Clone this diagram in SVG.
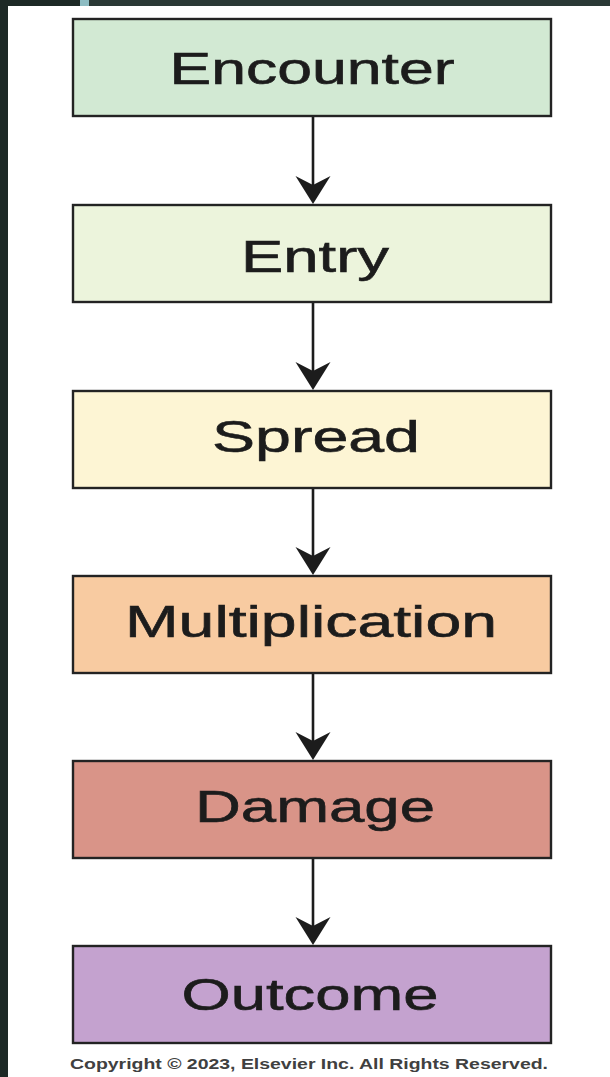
<svg xmlns="http://www.w3.org/2000/svg" width="610" height="1077" viewBox="0 0 610 1077">
  <style>
    .box { stroke: #232323; stroke-width: 2.4; }
    .lbl { font-family: "Liberation Sans", Arial, sans-serif; font-size: 45px; fill: #1c1c1c; stroke: #1c1c1c; stroke-width: 0.6; text-anchor: middle; }
    .conn { stroke: #1c1c1c; stroke-width: 2.6; fill: none; }
    .copy { font-family: "Liberation Sans", Arial, sans-serif; font-size: 14px; font-weight: bold; fill: #404040; text-anchor: middle; }
  </style>
  <defs>
    <marker id="arrow" markerUnits="userSpaceOnUse" viewBox="-30 -20 34 40" refX="-4" refY="0" markerWidth="34" markerHeight="40" orient="auto">
      <path d="M0,0 L-28,-17.5 L-19,0 L-28,17.5 Z" fill="#1c1c1c"/>
    </marker>
  </defs>
  <rect x="0" y="0" width="610" height="1077" fill="#ffffff"/>
  <g id="frame">
    <rect x="0" y="0" width="8" height="1077" fill="#1d2926"/>
    <rect x="0" y="0" width="80" height="6" fill="#1d2926"/>
    <rect x="80" y="0" width="9" height="6" fill="#8dbcc2"/>
    <rect x="89" y="0" width="521" height="6" fill="#2a3935"/>
  </g>
  <g id="connectors">
    <line class="conn" x1="313" y1="116" x2="313" y2="200" marker-end="url(#arrow)"/>
    <line class="conn" x1="313" y1="302" x2="313" y2="386" marker-end="url(#arrow)"/>
    <line class="conn" x1="313" y1="488" x2="313" y2="571" marker-end="url(#arrow)"/>
    <line class="conn" x1="313" y1="673" x2="313" y2="756" marker-end="url(#arrow)"/>
    <line class="conn" x1="313" y1="858" x2="313" y2="941" marker-end="url(#arrow)"/>
  </g>
  <g id="encounter">
    <rect class="box" x="73" y="19" width="478" height="97" fill="#d2e9d3"/>
    <text class="lbl" x="312" y="84" textLength="285" lengthAdjust="spacingAndGlyphs">Encounter</text>
  </g>
  <g id="entry">
    <rect class="box" x="73" y="205" width="478" height="97" fill="#ecf4dc"/>
    <text class="lbl" x="315" y="272" textLength="148" lengthAdjust="spacingAndGlyphs">Entry</text>
  </g>
  <g id="spread">
    <rect class="box" x="73" y="391" width="478" height="97" fill="#fdf5d4"/>
    <text class="lbl" x="316" y="452" textLength="208" lengthAdjust="spacingAndGlyphs">Spread</text>
  </g>
  <g id="multiplication">
    <rect class="box" x="73" y="576" width="478" height="97" fill="#f8cba1"/>
    <text class="lbl" x="311" y="637" textLength="372" lengthAdjust="spacingAndGlyphs">Multiplication</text>
  </g>
  <g id="damage">
    <rect class="box" x="73" y="761" width="478" height="97" fill="#d99488"/>
    <text class="lbl" x="315" y="822" textLength="240" lengthAdjust="spacingAndGlyphs">Damage</text>
  </g>
  <g id="outcome">
    <rect class="box" x="73" y="946" width="478" height="97" fill="#c4a2cf"/>
    <text class="lbl" x="310" y="1010" textLength="257" lengthAdjust="spacingAndGlyphs">Outcome</text>
  </g>
  <text class="copy" x="309" y="1069" textLength="478" lengthAdjust="spacingAndGlyphs">Copyright © 2023, Elsevier Inc. All Rights Reserved.</text>
</svg>
